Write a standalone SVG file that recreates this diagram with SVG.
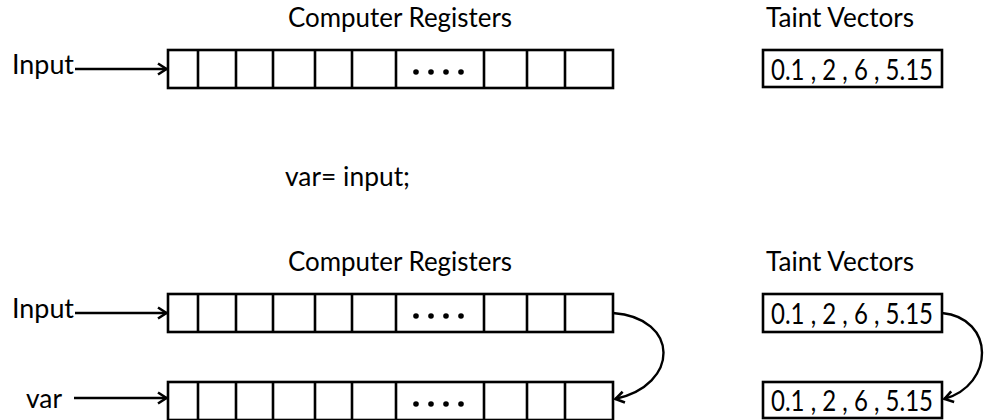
<svg xmlns="http://www.w3.org/2000/svg" width="984" height="420" viewBox="0 0 984 420">
<style>
text{font-family:Lato,"Open Sans","Liberation Sans",sans-serif;font-size:27px;fill:#000}
.tv{font-size:29px}
.box{fill:#fff;stroke:#000;stroke-width:2.6}
.div{stroke:#000;stroke-width:2.6}
.dot{fill:#000}
.conn{fill:none;stroke:#000;stroke-width:2.4}
</style>
<defs>
<marker id="ah" viewBox="0 0 14 14" refX="13" refY="7" markerWidth="14" markerHeight="14" markerUnits="userSpaceOnUse" orient="auto">
<path d="M4,1.5 L12.5,7 L4,12.5" fill="none" stroke="#000" stroke-width="2.6"/>
</marker>
<g id="cells">
<rect class="box" x="168" y="0" width="445" height="38"/>
<path class="div" d="M198,0V38M236,0V38M273,0V38M315,0V38M352,0V38M396,0V38M484,0V38M527,0V38M565,0V38"/>
<circle class="dot" cx="416" cy="22" r="2.8"/>
<circle class="dot" cx="431" cy="22" r="2.8"/>
<circle class="dot" cx="446" cy="22" r="2.8"/>
<circle class="dot" cx="461" cy="22" r="2.8"/>
</g>
</defs>

<g id="titles">
<text x="288" y="27" textLength="224" lengthAdjust="spacingAndGlyphs">Computer Registers</text>
<text x="766" y="27" textLength="148" lengthAdjust="spacingAndGlyphs">Taint Vectors</text>
<text x="285" y="186" textLength="125" lengthAdjust="spacingAndGlyphs">var= input;</text>
<text x="288" y="271" textLength="224" lengthAdjust="spacingAndGlyphs">Computer Registers</text>
<text x="766" y="271" textLength="148" lengthAdjust="spacingAndGlyphs">Taint Vectors</text>
</g>

<g id="input-label-top"><text x="12" y="74" textLength="62" lengthAdjust="spacingAndGlyphs">Input</text></g>
<g id="registers-top"><use href="#cells" y="50"/></g>
<g id="taint-top">
<rect class="box" x="763" y="50" width="179" height="37"/>
<text class="tv" x="852" y="80" text-anchor="middle" textLength="162" lengthAdjust="spacingAndGlyphs">0.1 , 2 , 6 , 5.15</text>
</g>

<g id="input-label-bottom"><text x="12" y="318" textLength="62" lengthAdjust="spacingAndGlyphs">Input</text></g>
<g id="var-label"><text x="26" y="408" textLength="36" lengthAdjust="spacingAndGlyphs">var</text></g>
<g id="registers-input"><use href="#cells" y="294"/></g>
<g id="registers-var"><use href="#cells" y="382"/></g>
<g id="taint-input">
<rect class="box" x="763" y="294" width="179" height="38"/>
<text class="tv" x="852" y="324" text-anchor="middle" textLength="162" lengthAdjust="spacingAndGlyphs">0.1 , 2 , 6 , 5.15</text>
</g>
<g id="taint-var">
<rect class="box" x="763" y="382" width="179" height="36"/>
<text class="tv" x="852" y="411" text-anchor="middle" textLength="162" lengthAdjust="spacingAndGlyphs">0.1 , 2 , 6 , 5.15</text>
</g>

<g id="connectors">
<path class="conn" d="M75,69 H167" marker-end="url(#ah)"/>
<path class="conn" d="M75,313 H167" marker-end="url(#ah)"/>
<path class="conn" d="M74,398 H167" marker-end="url(#ah)"/>
<path class="conn" d="M613,313 C680,318 680,385 615,399" marker-end="url(#ah)"/>
<path class="conn" d="M942,313 C995,318 995,385 944,399" marker-end="url(#ah)"/>
</g>
</svg>
